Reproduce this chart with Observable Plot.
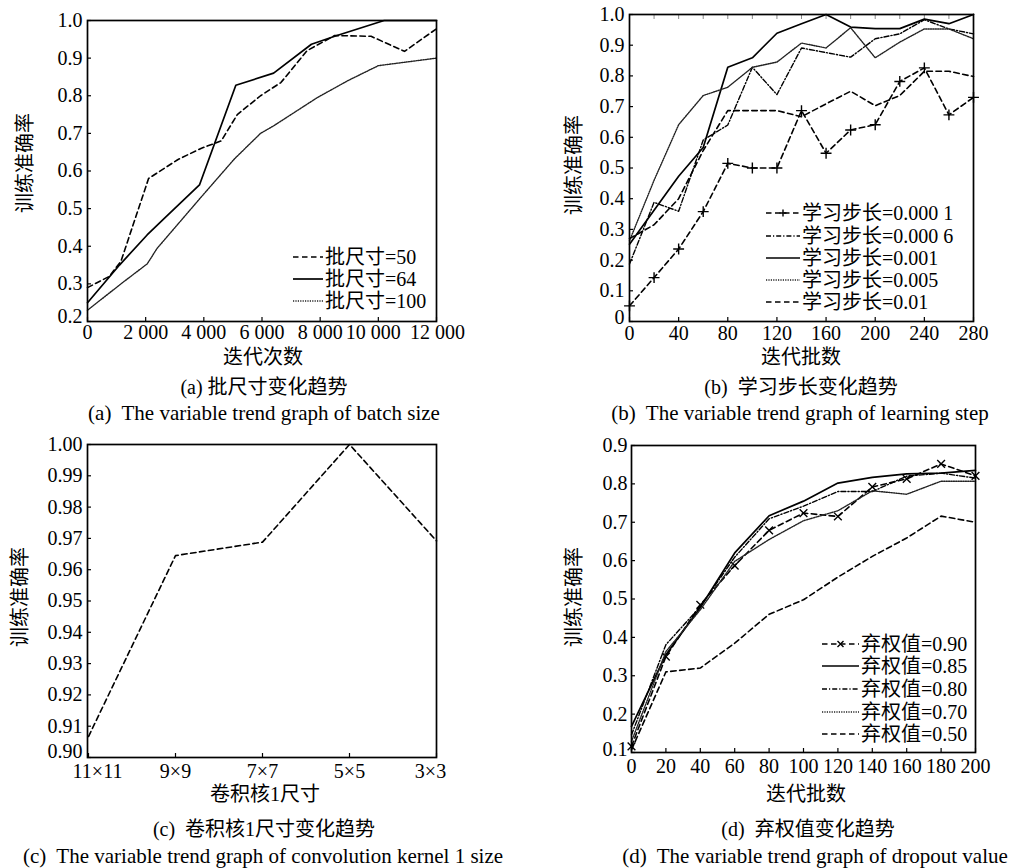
<!DOCTYPE html>
<html><head><meta charset="utf-8">
<script src="https://cdn.jsdelivr.net/npm/d3@7"></script>
<script src="https://cdn.jsdelivr.net/npm/@observablehq/plot@0.6"></script>
<style>
body{margin:0;background:#fff}
#root{position:relative;width:1018px;height:868px;overflow:hidden;font-family:"Liberation Serif","Noto Sans CJK SC",serif;color:#000;background:#fff}
.pn{position:absolute}
.t{position:absolute;white-space:pre;transform:translate(-50%,-50%);font-size:20px;line-height:1}
.yl{position:absolute;white-space:pre;transform:translate(-50%,-50%) rotate(-90deg);font-size:20px;line-height:1}
.lg{position:absolute;white-space:pre;font-size:20px;line-height:1;display:flex;align-items:center;transform:translateY(-50%)}
.lg svg{display:block;margin-right:2px}
</style></head>
<body><div id="root"></div>
<script>
// ---------- data ----------
// (a) batch size
const batchX50  = [0, 750, 1150, 2100, 3100, 3900, 4600, 5150, 5950, 6650, 7550, 8500, 9750, 10900, 12000];
const batchY50  = [0.29, 0.32, 0.36, 0.58, 0.63, 0.66, 0.68, 0.75, 0.80, 0.835, 0.92, 0.96, 0.958, 0.918, 0.978];
const batchX64  = [0, 1100, 2050, 2650, 3850, 5100, 6400, 7700, 8500, 10200, 12000];
const batchY64  = [0.25, 0.35, 0.43, 0.475, 0.563, 0.828, 0.86, 0.937, 0.958, 1.0, 1.0];
const batchX100 = [0, 1150, 2050, 2400, 3900, 5050, 5950, 6400, 7900, 8950, 10000, 10800, 12000];
const batchY100 = [0.23, 0.30, 0.353, 0.395, 0.53, 0.632, 0.70, 0.72, 0.795, 0.84, 0.88, 0.888, 0.90];
const batchLabels = ["批尺寸=50", "批尺寸=64", "批尺寸=100"];
const aXTicks = [0, 2000, 4000, 6000, 8000, 10000, 12000];
const aYTicks = [0.2, 0.3, 0.4, 0.5, 0.6, 0.7, 0.8, 0.9, 1.0];

// (b) learning step
const stepX   = [0, 20, 40, 60, 80, 100, 120, 140, 160, 180, 200, 220, 240, 260, 280];
const lr00001 = [0.051, 0.143, 0.236, 0.358, 0.515, 0.50, 0.50, 0.687, 0.548, 0.624, 0.641, 0.782, 0.826, 0.673, 0.730];
const lr00006 = [0.187, 0.388, 0.359, 0.591, 0.640, 0.828, 0.739, 0.891, 0.876, 0.861, 0.921, 0.937, 0.983, 0.953, 0.937];
const lr0001  = [0.252, 0.362, 0.473, 0.567, 0.828, 0.859, 0.939, 0.970, 1.0, 0.959, 0.954, 0.954, 0.985, 0.970, 1.0];
const lr0005  = [0.263, 0.46, 0.641, 0.736, 0.763, 0.828, 0.845, 0.907, 0.891, 0.957, 0.859, 0.91, 0.953, 0.953, 0.921];
const lr001   = [0.27, 0.315, 0.40, 0.557, 0.687, 0.687, 0.687, 0.667, 0.709, 0.75, 0.703, 0.736, 0.815, 0.815, 0.798];
const lrLabels = ["学习步长=0.000 1", "学习步长=0.000 6", "学习步长=0.001", "学习步长=0.005", "学习步长=0.01"];
const bXTicks = [0, 40, 80, 120, 160, 200, 240, 280];
const bXMinor = [20, 60, 100, 140, 180, 220, 260];
const bYTicks = [0, 0.1, 0.2, 0.3, 0.4, 0.5, 0.6, 0.7, 0.8, 0.9, 1.0];

// (c) kernel size
const kernels   = ["11×11", "9×9", "7×7", "5×5", "3×3"];
const kernelAcc = [0.9067, 0.9645, 0.9688, 1.0, 0.9692];
const cYTicks = [0.90, 0.91, 0.92, 0.93, 0.94, 0.95, 0.96, 0.97, 0.98, 0.99, 1.00];

// (d) dropout
const dropX = [0, 20, 40, 60, 80, 100, 120, 140, 160, 180, 200];
const d90 = [0.116, 0.35, 0.485, 0.587, 0.679, 0.724, 0.715, 0.792, 0.813, 0.852, 0.821];
const d85 = [0.168, 0.355, 0.478, 0.62, 0.717, 0.755, 0.802, 0.817, 0.826, 0.828, 0.835];
const d80 = [0.146, 0.381, 0.48, 0.609, 0.709, 0.742, 0.78, 0.78, 0.82, 0.828, 0.815];
const d70 = [0.129, 0.363, 0.472, 0.598, 0.655, 0.704, 0.73, 0.782, 0.773, 0.807, 0.807];
const d50 = [0.107, 0.31, 0.32, 0.385, 0.46, 0.498, 0.557, 0.611, 0.659, 0.716, 0.70];
const dropLabels = ["弃权值=0.90", "弃权值=0.85", "弃权值=0.80", "弃权值=0.70", "弃权值=0.50"];
const dXTicks = [0, 20, 40, 60, 80, 100, 120, 140, 160, 180, 200];
const dYTicks = [0.1, 0.2, 0.3, 0.4, 0.5, 0.6, 0.7, 0.8, 0.9];

// ---------- styles ----------
const STY = {
  dash:    {stroke: "#000", strokeWidth: 1.6, strokeDasharray: "5.5,3.5"},
  solid:   {stroke: "#000", strokeWidth: 1.7},
  dashdot: {stroke: "#000", strokeWidth: 1.4, strokeDasharray: "5,2,1.2,2"},
  dot:     {stroke: "#222", strokeWidth: 1.4, strokeDasharray: "1.2,1.2"}
};
const FONT = '"Liberation Serif", "Noto Sans CJK SC", serif';
const TFS = 20;
const locale = d3.formatLocale({decimal: ".", thousands: " ", grouping: [3], currency: ["", ""]});
const thou = locale.format(",");

const root = document.getElementById("root");

function rows(xs, ys) { return xs.map((x, i) => ({x, y: ys[i]})); }

function panel(o) {
  const xt = o.xTicks;
  const shift = o.xShift || new Map();
  const plain = xt.filter(t => !shift.has(t));
  const xLabelAxes = [
    Plot.axisX({ticks: plain, tickSize: 0, tickPadding: o.xPad, tickFormat: o.xFmt, label: null, fontSize: TFS, fill: "#000"}),
    ...[...shift].map(([t, dx]) => Plot.axisX({ticks: [t], tickSize: 0, tickPadding: o.xPad, tickFormat: o.xFmt, label: null, fontSize: TFS, fill: "#000", dx}))
  ];
  const marks = [
    ...xLabelAxes,
    Plot.axisX({ticks: xt, tickSize: -4, tickFormat: () => "", label: null, stroke: "#000", strokeWidth: 1.2}),
    Plot.axisY({ticks: o.yTicks.slice(1), tickSize: 0, tickPadding: o.yPad, tickFormat: o.yFmt, label: null, fontSize: TFS, fill: "#000"}),
    Plot.axisY({ticks: [o.yTicks[0]], tickSize: 0, tickPadding: o.yPad, tickFormat: o.yFmt, label: null, fontSize: TFS, fill: "#000", dy: o.yLowDy}),
    Plot.axisY({ticks: o.yTicks, tickSize: -4, tickFormat: () => "", label: null, stroke: "#000", strokeWidth: 1.2})
  ];
  if (o.extra) marks.push(...o.extra);
  for (const s of o.series) {
    marks.push(Plot.line(s.data, {x: "x", y: "y", ...STY[s.style]}));
    if (s.symbol) marks.push(Plot.dot(s.data, {x: "x", y: "y", symbol: s.symbol, r: 3.6, stroke: "#000", strokeWidth: 1.4, fill: "none"}));
  }
  marks.push(Plot.frame({stroke: "#000", strokeWidth: 1.7}));
  const svg = Plot.plot({
    width: 509, height: 345,
    marginLeft: o.m[0], marginRight: o.m[1], marginTop: o.m[2], marginBottom: o.m[3],
    style: {fontFamily: FONT, fontSize: TFS + "px", color: "#000", background: "transparent", overflow: "visible"},
    x: o.x, y: o.y,
    marks
  });
  const div = document.createElement("div");
  div.className = "pn";
  div.style.left = o.left + "px"; div.style.top = o.top + "px";
  div.appendChild(svg);
  root.appendChild(div);
}

function text(cls, str, x, y, size) {
  const d = document.createElement("div");
  d.className = cls; d.textContent = str;
  d.style.left = x + "px"; d.style.top = y + "px";
  if (size) d.style.fontSize = size + "px";
  root.appendChild(d);
}

function legend(entries, x, ys, w) {
  entries.forEach((e, i) => {
    const d = document.createElement("div");
    d.className = "lg";
    d.style.left = x + "px"; d.style.top = ys[i] + "px";
    const st = STY[e.style];
    let inner = `<line x1="0" y1="6" x2="${w}" y2="6" stroke="${st.stroke}" stroke-width="${st.strokeWidth}" ${st.strokeDasharray ? `stroke-dasharray="${st.strokeDasharray}"` : ""}/>`;
    const c = w / 2;
    if (e.symbol === "plus") inner += `<path d="M${c-3.5},6H${c+3.5}M${c},2.5V9.5" stroke="#000" stroke-width="1.4"/>`;
    if (e.symbol === "times") inner += `<path d="M${c-3},3L${c+3},9M${c+3},3L${c-3},9" stroke="#000" stroke-width="1.4"/>`;
    d.innerHTML = `<svg width="${w}" height="12">${inner}</svg><span>${e.label}</span>`;
    root.appendChild(d);
  });
}

// ---------- (a) ----------
panel({
  left: 0, top: 0, m: [87, 73, 20, 24], xPad: 3, yPad: 5, yLowDy: -5,
  xShift: new Map([[10000, -5], [12000, 1]]),
  x: {domain: [0, 12000]}, y: {domain: [0.2, 1.0]},
  xTicks: aXTicks, yTicks: aYTicks, xFmt: d => thou(d), yFmt: d3.format(".1f"),
  series: [
    {data: rows(batchX50, batchY50), style: "dash"},
    {data: rows(batchX64, batchY64), style: "solid"},
    {data: rows(batchX100, batchY100), style: "dot"}
  ]
});
text("yl", "训练准确率", 25, 163);
text("t", "迭代次数", 263, 357);
text("t", "(a) 批尺寸变化趋势", 264, 387);
text("t", "(a)  The variable trend graph of batch size", 264, 413, 21);
legend([{label: batchLabels[0], style: "dash"}, {label: batchLabels[1], style: "solid"}, {label: batchLabels[2], style: "dot"}], 293, [257, 279, 301], 30);

// ---------- (b) ----------
panel({
  left: 509, top: 0, m: [120, 45, 14, 24], xPad: 4, yPad: 5, yLowDy: -4,
  x: {domain: [0, 280]}, y: {domain: [0, 1.0]},
  xTicks: bXTicks, yTicks: bYTicks, xFmt: d => String(d), yFmt: d => d === 0 ? "0" : d3.format(".1f")(d),
  extra: [Plot.axisX({anchor: "top", ticks: bXTicks.concat(bXMinor), tickSize: -4, tickFormat: () => "", label: null, stroke: "#888", strokeWidth: 1})],
  series: [
    {data: rows(stepX, lr00001), style: "dash", symbol: "plus"},
    {data: rows(stepX, lr00006), style: "dashdot"},
    {data: rows(stepX, lr0001), style: "solid"},
    {data: rows(stepX, lr0005), style: "dot"},
    {data: rows(stepX, lr001), style: "dash"}
  ]
});
text("yl", "训练准确率", 574, 165);
text("t", "迭代批数", 801, 357);
text("t", "(b)  学习步长变化趋势", 801, 387);
text("t", "(b)  The variable trend graph of learning step", 800, 413, 21);
legend([
  {label: lrLabels[0], style: "dash", symbol: "plus"},
  {label: lrLabels[1], style: "dashdot"},
  {label: lrLabels[2], style: "solid"},
  {label: lrLabels[3], style: "dot"},
  {label: lrLabels[4], style: "dash"}
], 766, [213, 236, 258, 280, 302], 34);

// ---------- (c) ----------
panel({
  left: 0, top: 434, m: [87, 73, 10, 22], xPad: 6, yPad: 5, yLowDy: -6,
  xShift: new Map([["11×11", 9], ["3×3", -6]]),
  x: {type: "point", domain: kernels, padding: 0}, y: {domain: [0.90, 1.00]},
  xTicks: kernels, yTicks: cYTicks, xFmt: d => d, yFmt: d3.format(".2f"),
  series: [
    {data: kernels.map((k, i) => ({x: k, y: kernelAcc[i]})), style: "dash"}
  ]
});
text("yl", "训练准确率", 20, 597);
text("t", "卷积核1尺寸", 265, 794);
text("t", "(c)  卷积核1尺寸变化趋势", 264, 829);
text("t", "(c)  The variable trend graph of convolution kernel 1 size", 263, 856, 21);

// ---------- (d) ----------
panel({
  left: 509, top: 434, m: [122, 43, 11, 27], xPad: 6, yPad: 4, yLowDy: -3,
  x: {domain: [0, 200]}, y: {domain: [0.1, 0.9]},
  xTicks: dXTicks, yTicks: dYTicks, xFmt: d => String(d), yFmt: d3.format(".1f"),
  series: [
    {data: rows(dropX, d90), style: "dash", symbol: "times"},
    {data: rows(dropX, d85), style: "solid"},
    {data: rows(dropX, d80), style: "dashdot"},
    {data: rows(dropX, d70), style: "dot"},
    {data: rows(dropX, d50), style: "dash"}
  ]
});
text("yl", "训练准确率", 574, 597);
text("t", "迭代批数", 806, 794);
text("t", "(d)  弃权值变化趋势", 808, 829);
text("t", "(d)  The variable trend graph of dropout value", 815, 856, 21);
legend([
  {label: dropLabels[0], style: "dash", symbol: "times"},
  {label: dropLabels[1], style: "solid"},
  {label: dropLabels[2], style: "dashdot"},
  {label: dropLabels[3], style: "dot"},
  {label: dropLabels[4], style: "dash"}
], 822, [644, 666, 689, 712, 734], 37);
</script>
</body></html>
